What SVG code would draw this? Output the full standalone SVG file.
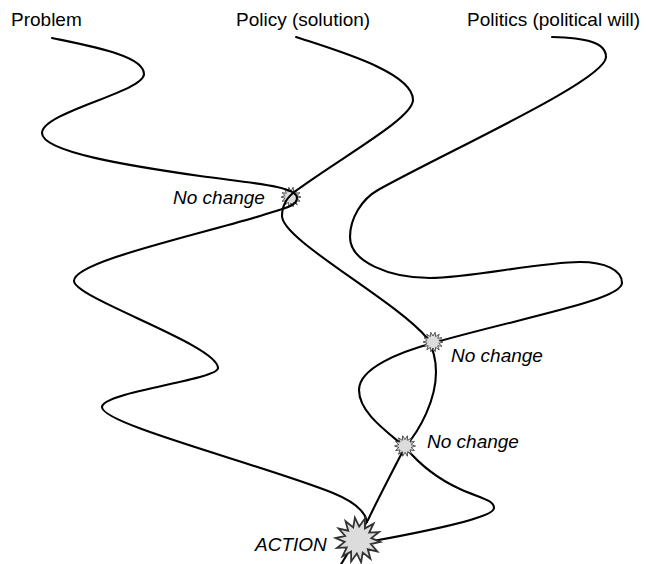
<svg xmlns="http://www.w3.org/2000/svg" xmlns:xlink="http://www.w3.org/1999/xlink" width="647" height="564" viewBox="0 0 647 564">
<style>
.t{font-family:"Liberation Sans",Arial,Helvetica,sans-serif;font-size:19px;fill:#000}
.i{font-style:italic}
.c{fill:none;stroke:#000;stroke-width:2.1;stroke-linecap:round;stroke-linejoin:round}
.s{fill:#dcdcdc;stroke:#333;stroke-width:0.8;vector-effect:non-scaling-stroke}
</style>
<defs>
<polygon id="star" points="10,0 5.85,1.34 9.01,4.34 4.69,3.74 6.24,7.82 2.6,5.41 2.23,9.75 0,6 -2.23,9.75 -2.6,5.41 -6.24,7.82 -4.69,3.74 -9.01,4.34 -5.85,1.34 -10,0 -5.85,-1.34 -9.01,-4.34 -4.69,-3.74 -6.24,-7.82 -2.6,-5.41 -2.23,-9.75 0,-6 2.23,-9.75 2.6,-5.41 6.24,-7.82 4.69,-3.74 9.01,-4.34 5.85,-1.34"/>
</defs>
<rect width="647" height="564" fill="#fff"/>
<g id="headers">
<text class="t" x="11" y="26">Problem</text>
<text class="t" x="236" y="26">Policy (solution)</text>
<text class="t" x="467" y="26">Politics (political will)</text>
</g>
<g id="star-1"><use xlink:href="#star" class="s" transform="translate(291,197)"/></g>
<g id="connectors">
<path id="problem" class="c" d="M52,38 C95,47 144,56 144,74 C144,92 42,112 42,133 C42,152 130,166 200,176 C250,183 297,186 297,198 C297,206 285,208 260,216 C190,237 74,262 74,281 C74,298 218,345 218,368 C218,380 102,392 102,407 C101,424 260,464 333,493 C350,500 365,510 367,522"/>
<path id="policy" class="c" d="M296,37 C335,50 413,72 413,100 C413,118 345,155 297,190 C288,196 282,205 282,216 C282,240 395,300 427,338 C433,348 436,358 436,372 C436,400 420,430 405,447 C392,472 375,505 368,520 L340,566"/>
<path id="politics" class="c" d="M552,37 C585,38 606,42 606,57 C606,80 450,150 378,190 C362,199 350,218 350,237 C350,262 390,278 430,278 C470,278 540,262 580,262 C605,262 622,270 622,283 C622,300 520,318 433,343 C400,352 359,368 359,390 C359,412 385,430 405,447 C420,465 440,480 460,489 C480,498 494,500 494,508 C494,515 460,525 373,541"/>
</g>
<g id="star-2"><use xlink:href="#star" class="s" transform="translate(433,342)"/></g>
<g id="star-3"><use xlink:href="#star" class="s" transform="translate(405,446) scale(1.05)"/></g>
<g id="action"><use xlink:href="#star" class="s" transform="translate(358,540) scale(2.25) rotate(5)"/></g>
<g id="labels">
<text class="t i" x="173" y="204">No change</text>
<text class="t i" x="451" y="362">No change</text>
<text class="t i" x="427" y="448">No change</text>
<text class="t i" x="255" y="551">ACTION</text>
</g>
</svg>
